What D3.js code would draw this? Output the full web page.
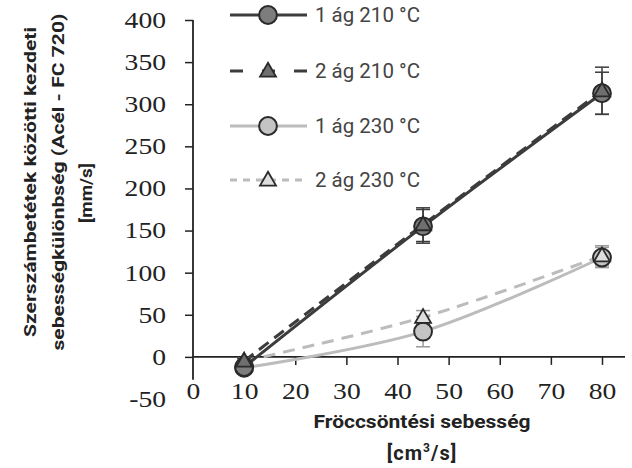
<!DOCTYPE html>
<html>
<head>
<meta charset="utf-8">
<script src="https://cdn.jsdelivr.net/npm/d3@7"></script>
<style>
  body { margin: 0; background: #fff; }
  svg { display: block; }
</style>
</head>
<body>
<div id="chart"></div>
<script>
// Data
const speeds = [10, 45, 80]
const xTicks = [0, 10, 20, 30, 40, 50, 60, 70, 80]
const yTicks = [-50, 0, 50, 100, 150, 200, 250, 300, 350, 400]

const seriesNames = ['1 ág 210 °C', '2 ág 210 °C', '1 ág 230 °C', '2 ág 230 °C']
const s1Values = [-12, 155, 313]
const s2Values = [-5, 157, 316]
const s3Values = [-13, 30, 118]
const s4Values = [-5, 47, 120]
const s1Errors = [3, 20, 25]
const s2Errors = [3, 20, 28]
const s3Errors = [3, 18, 12]
const s4Errors = [3, 8, 12]

const styles = [
  { line: '#3c3c3c', fill: '#7d7d7d', dash: null, legendDash: null, marker: 'circle', err: '#3c3c3c' },
  { line: '#3c3c3c', fill: '#6f6f6f', dash: '12,7', legendDash: '13,19', marker: 'triangle', err: '#3c3c3c' },
  { line: '#bcbcbc', fill: '#c4c4c4', dash: null, legendDash: null, marker: 'circle', err: '#9a9a9a' },
  { line: '#bcbcbc', fill: '#dedede', dash: '12,8', legendDash: '7,6', marker: 'triangle', err: '#9a9a9a' }
]

const series = [
  { values: s1Values, errors: s1Errors },
  { values: s2Values, errors: s2Errors },
  { values: s3Values, errors: s3Errors },
  { values: s4Values, errors: s4Errors }
].map((s, i) => ({ ...s, name: seriesNames[i], style: styles[i] }))

// Dimensions
const width = 632, height = 468
const stretch = 1.2 // tick digits in the original are drawn wide

const xScale = d3.scaleLinear().domain([0, 80]).range([193, 602])
const yScale = d3.scaleLinear().domain([-50, 400]).range([399, 20])

const svg = d3.select('#chart')
  .append('svg')
  .attr('width', width)
  .attr('height', height)

// Axes
const yAxis = d3.axisLeft(yScale)
  .tickValues(yTicks)
  .tickSize(8)
  .tickPadding(19)
  .tickFormat(d => d)

const yAxisGroup = svg.append('g')
  .attr('transform', `translate(${xScale(0)},0)`)
  .call(yAxis)
  .attr('font-family', 'Liberation Serif')
  .attr('font-size', 23)
yAxisGroup.select('.domain').remove()
yAxisGroup.selectAll('.tick line').attr('stroke', '#222').attr('stroke-width', 1.5)
yAxisGroup.selectAll('.tick').filter(d => d === -50).select('line').remove()
yAxisGroup.selectAll('.tick text')
  .attr('x', 0)
  .attr('transform', `translate(-27,0) scale(${stretch},1)`)
  .attr('fill', '#222')

const xAxis = d3.axisBottom(xScale)
  .tickValues(xTicks)
  .tickSize(8)
  .tickPadding(18)
  .tickFormat(d => d)

const xAxisGroup = svg.append('g')
  .attr('transform', `translate(0,${yScale(0)})`)
  .call(xAxis)
  .attr('font-family', 'Liberation Serif')
  .attr('font-size', 23)
xAxisGroup.select('.domain').remove()
xAxisGroup.selectAll('.tick line').attr('stroke', '#222').attr('stroke-width', 1.5)
xAxisGroup.selectAll('.tick').filter(d => d === 0).select('line').remove()
xAxisGroup.selectAll('.tick text')
  .attr('transform', `scale(${stretch},1)`)
  .attr('fill', '#222')

// axis lines
svg.append('line')
  .attr('x1', xScale(0)).attr('x2', xScale(0))
  .attr('y1', yScale(400)).attr('y2', yScale(-27))
  .attr('stroke', '#222').attr('stroke-width', 1.8)
svg.append('line')
  .attr('x1', xScale(0)).attr('x2', xScale(84.5))
  .attr('y1', yScale(0)).attr('y2', yScale(0))
  .attr('stroke', '#222').attr('stroke-width', 1.8)

// Axis titles
const yTitle = svg.append('text')
  .attr('transform', 'rotate(-90)')
  .attr('text-anchor', 'middle')
  .style('font-family', 'Roboto, sans-serif')
  .style('font-weight', 'bold')
  .style('font-size', '17px')
  .attr('fill', '#222')
yTitle.append('tspan').attr('x', -182).attr('y', 36)
  .attr('textLength', 310).attr('lengthAdjust', 'spacingAndGlyphs')
  .text('Szerszámbetétek közötti kezdeti')
yTitle.append('tspan').attr('x', -182).attr('y', 64)
  .attr('textLength', 337).attr('lengthAdjust', 'spacingAndGlyphs')
  .text('sebességkülönbség (Acél - FC 720)')
yTitle.append('tspan').attr('x', -193).attr('y', 92)
  .attr('textLength', 60).attr('lengthAdjust', 'spacingAndGlyphs')
  .text('[mm/s]')

svg.append('text')
  .attr('x', 422).attr('y', 428)
  .attr('text-anchor', 'middle')
  .attr('textLength', 217).attr('lengthAdjust', 'spacingAndGlyphs')
  .style('font-family', 'Roboto, sans-serif')
  .style('font-weight', 'bold')
  .style('font-size', '19px')
  .attr('fill', '#222')
  .text('Fröccsöntési sebesség')

const unit = svg.append('text')
  .attr('x', 422).attr('y', 460)
  .attr('text-anchor', 'middle')
  .style('font-family', 'Roboto, sans-serif')
  .style('font-weight', 'bold')
  .style('font-size', '20px')
  .style('letter-spacing', '1px')
  .attr('fill', '#222')
unit.append('tspan').text('[cm')
unit.append('tspan').attr('dy', -8).style('font-size', '12px').text('3')
unit.append('tspan').attr('dy', 8).text('/s]')

// Lines
const line = d3.line()
  .x((d, i) => xScale(speeds[i]))
  .y(d => yScale(d))
  .curve(d3.curveCatmullRom)

const drawOrder = [2, 3, 0, 1]
drawOrder.forEach(i => {
  const s = series[i]
  svg.append('path')
    .datum(s.values)
    .attr('d', line)
    .attr('fill', 'none')
    .attr('stroke', s.style.line)
    .attr('stroke-width', 3)
    .attr('stroke-dasharray', s.style.dash)
})

// Error bars
drawOrder.forEach(i => {
  const s = series[i]
  const g = svg.append('g').attr('stroke', s.style.err).attr('stroke-width', 1.5)
  s.values.forEach((v, j) => {
    const x = xScale(speeds[j])
    const top = yScale(v + s.errors[j])
    const bot = yScale(v - s.errors[j])
    g.append('line').attr('x1', x).attr('x2', x).attr('y1', top).attr('y2', bot)
    g.append('line').attr('x1', x - 7).attr('x2', x + 7).attr('y1', top).attr('y2', top)
    g.append('line').attr('x1', x - 7).attr('x2', x + 7).attr('y1', bot).attr('y2', bot)
  })
})

// Markers
const circleSym = d3.symbol().type(d3.symbolCircle).size(250)
const triSym = d3.symbol().type(d3.symbolTriangle).size(110)

function drawMarker(g, x, y, style) {
  g.append('path')
    .attr('d', style.marker === 'circle' ? circleSym() : triSym())
    .attr('transform', `translate(${x},${y + (style.marker === 'circle' ? 0 : 1)})`)
    .attr('fill', style.fill)
    .attr('stroke', '#2a2a2a')
    .attr('stroke-width', style.marker === 'circle' ? 2 : 1.8)
}

drawOrder.forEach(i => {
  const s = series[i]
  const g = svg.append('g')
  s.values.forEach((v, j) => drawMarker(g, xScale(speeds[j]), yScale(v), s.style))
})

// Legend
const legendY = [15, 71, 126, 180]
series.forEach((s, i) => {
  const g = svg.append('g').attr('transform', `translate(230,${legendY[i]})`)
  g.append('line')
    .attr('x1', 0).attr('x2', 77)
    .attr('stroke', s.style.line)
    .attr('stroke-width', 3)
    .attr('stroke-dasharray', s.style.legendDash)
  drawMarker(g, 38, 0, s.style)
  g.append('text')
    .attr('x', 85).attr('y', 7)
    .attr('textLength', 105).attr('lengthAdjust', 'spacingAndGlyphs')
    .style('font-family', 'Roboto, sans-serif')
    .style('font-size', '19.5px')
    .attr('fill', '#444')
    .text(s.name)
})
</script>
</body>
</html>
